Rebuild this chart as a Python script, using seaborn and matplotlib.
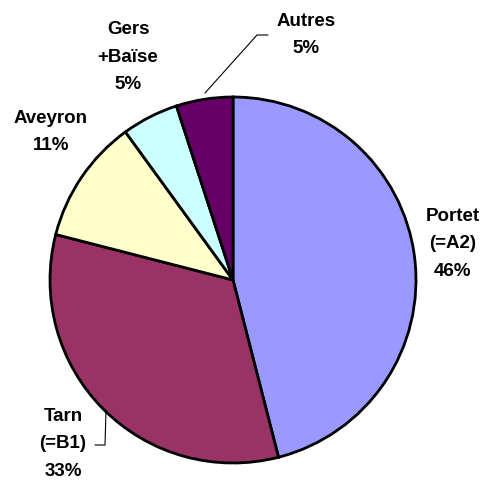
import matplotlib
matplotlib.use("Agg")
import matplotlib.pyplot as plt
import seaborn as sns

sns.set_theme(style="white")
plt.rcParams["font.family"] = ["Liberation Sans", "DejaVu Sans"]

# Share of each origin (%), clockwise from 12 o'clock
regions = ["Portet\n(=A2)", "Tarn\n(=B1)", "Aveyron", "Gers\n+Baïse", "Autres"]
shares = [46, 33, 11, 5, 5]
palette = sns.color_palette(["#9999FF", "#993366", "#FFFFCC", "#CCFFFF", "#660066"])

W, H = 487, 484
fig = plt.figure(figsize=(W / 100, H / 100), dpi=100)

# pie centre and radius in pixels
cx, cy, r = 233, 280, 183
ax = fig.add_axes([(cx - r) / W, (H - cy - r) / H, 2 * r / W, 2 * r / H])
ax.pie(shares, colors=palette, startangle=90, counterclock=False, radius=1,
       wedgeprops=dict(edgecolor="black", linewidth=2))
ax.set_xlim(-1, 1)
ax.set_ylim(-1, 1)
ax.set_aspect("equal")
ax.axis("off")
ax.set_clip_on(False)


def to_data(px, py):
    return (px - cx) / r, (cy - py) / r


# label anchor points (pixel centres of the text blocks)
label_pos = [(453, 244), (63, 444), (51, 132), (128, 57), (306, 35)]
for name, val, (px, py) in zip(regions, shares, label_pos):
    x, y = to_data(px, py)
    ax.text(x, y, f"{name}\n{val}%", ha="center", va="center",
            fontsize=13.5, fontweight="bold", color="black",
            linespacing=1.82, clip_on=False)

# leader lines
for pts in ([(106, 410), (105, 445), (95, 445)],
            [(205, 93), (257, 35), (268, 35)]):
    xs, ys = zip(*[to_data(px, py) for px, py in pts])
    ax.plot(xs, ys, color="black", linewidth=0.8, clip_on=False)

fig.savefig("out.png", dpi=100, facecolor="white")
